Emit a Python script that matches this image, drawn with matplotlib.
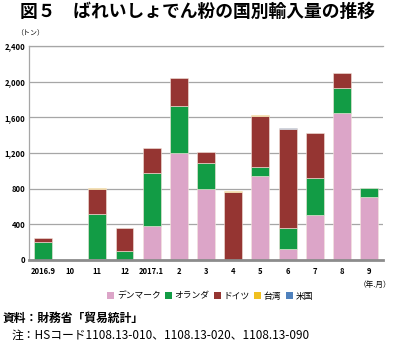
import matplotlib
matplotlib.use("Agg")
import matplotlib.pyplot as plt
from matplotlib.patches import Patch
import numpy as np

plt.rcParams['font.family'] = ['Noto Sans CJK JP', 'DejaVu Sans']

months = ["2016.9", "10", "11", "12", "2017.1", "2", "3", "4", "5", "6", "7", "8", "9"]
denmark     = [0, 0, 10, 0, 375, 1200, 800, 0, 940, 116, 506, 1648, 704]
netherlands = [195, 0, 505, 97, 600, 527, 285, 0, 100, 236, 415, 281, 97]
germany     = [50, 0, 283, 263, 280, 318, 120, 762, 575, 1116, 502, 172, 0]
taiwan      = [0, 0, 7, 0, 0, 0, 0, 5, 5, 0, 0, 0, 0]
usa         = [0, 0, 0, 0, 0, 0, 0, 0, 0, 12, 0, 0, 0]

series = [
    ("デンマーク", denmark, "#dca5c8"),
    ("オランダ", netherlands, "#129c45"),
    ("ドイツ", germany, "#953532"),
    ("台湾", taiwan, "#f0c020"),
    ("米国", usa, "#4f81bd"),
]
yticks = [0, 400, 800, 1200, 1600, 2000, 2400]

fig = plt.figure(figsize=(3.95, 3.4), dpi=100)
ax = fig.add_axes([0.0742, 0.236, 0.895, 0.6287])

x = np.arange(len(months))
bottom = np.zeros(len(months))
for name, vals, color in series:
    v = np.array(vals, dtype=float)
    nz = v > 0
    ax.bar(x[nz], v[nz], width=0.66, bottom=bottom[nz], color=color,
           edgecolor="#f4e6dc", linewidth=0.4, zorder=3)
    bottom += v

ax.set_xlim(-0.5, 12.5)
ax.set_ylim(0, 2400)
ax.set_yticks(yticks)
ax.set_yticklabels([f"{t:,}" for t in yticks], fontsize=5.5)
ax.set_xticks(x)
ax.set_xticklabels(months, fontsize=5.5)
ax.tick_params(axis="both", length=0, pad=3)
ax.tick_params(axis="x", pad=5)
for lbl in ax.get_xticklabels() + ax.get_yticklabels():
    lbl.set_fontweight("bold")

ax.grid(axis="y", color="#a6a6a6", linewidth=0.9, zorder=0)
ax.set_axisbelow(True)
for s in ["top", "right"]:
    ax.spines[s].set_visible(False)
ax.spines["left"].set_color("#a6a6a6")
ax.spines["left"].set_linewidth(0.9)
ax.spines["bottom"].set_color("#8c8c8c")
ax.spines["bottom"].set_linewidth(2.0)
ax.spines["bottom"].set_zorder(4)
ax.plot([-0.5, 12.5], [2400, 2400], color="#a6a6a6", linewidth=0.9,
        clip_on=False, zorder=1)

fig.text(20 / 395, 1 - 12 / 340, "図５　ばれいしょでん粉の国別輸入量の推移",
         fontsize=12.8, fontweight="bold", va="center", ha="left")
fig.text(16 / 395, 1 - 33 / 340, "（トン）", fontsize=5, va="center", ha="left")
fig.text(375 / 395, 1 - 285 / 340, "（年.月）", fontsize=5.5, va="center", ha="center")

handles = [Patch(facecolor=c, edgecolor="none") for _, _, c in series]
fig.legend(handles, [n for n, _, _ in series], loc="center",
           bbox_to_anchor=(210 / 395, 1 - 296 / 340), ncol=5, frameon=False,
           fontsize=6.3, handlelength=0.8, handleheight=0.8, handletextpad=0.3,
           columnspacing=0.5)

fig.text(3 / 395, 1 - 318 / 340, "資料：財務省「貿易統計」", fontsize=8.5,
         fontweight="bold", va="center", ha="left")
fig.text(12 / 395, 1 - 335 / 340, "注：HSコード1108.13-010、1108.13-020、1108.13-090",
         fontsize=8.5, va="center", ha="left")

fig.savefig("out.png", dpi=100)
